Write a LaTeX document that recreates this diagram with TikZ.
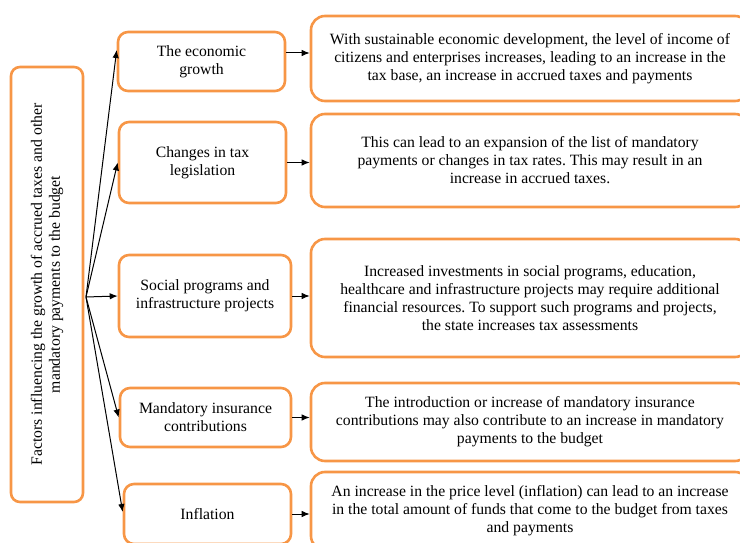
\documentclass[tikz,border=0pt]{standalone}
\usepackage{fontspec}
\setmainfont{Liberation Serif}
\frenchspacing
\usetikzlibrary{arrows.meta,calc}
\definecolor{boxorange}{RGB}{247,150,70}
\tikzset{%
  factor/.style = {shape=rectangle, rounded corners=9pt,%
                   draw=boxorange, line width=2.6pt, align=center,%
                   inner sep=0pt, font=\fontsize{15.7}{18}\selectfont},%
  cause/.style  = {factor, rounded corners=10pt},%
  effect/.style = {factor, rounded corners=14pt,%
                   minimum width=438pt},%
  link/.style   = {-{Latex[length=8pt,width=6.5pt]}, line width=1pt}%
}

\begin{document}
\begin{tikzpicture}[x=1pt, y=-1pt]
                  \useasboundingbox (0,0) rectangle (740,543);
                  \clip (0,0) rectangle (740,543);
                  % the common root, set sideways
                  \node[factor, rotate=90, minimum width=435pt, minimum height=72pt]
                    (root) at (47,284.5)
                    {Factors influencing the growth of accrued taxes and other\\
                     mandatory payments to the budget};
                  \coordinate (hub) at (86,297);
                  % the five factors
                  \node[cause, minimum width=167pt, minimum height=59pt]
                    (growth) at (201.5,61.5) {The economic\\growth};
                  \node[cause, minimum width=167pt, minimum height=81pt]
                    (law) at (202.5,162.5) {Changes in tax\\legislation};
                  \node[cause, minimum width=172pt, minimum height=82pt]
                    (social) at (205,296) {Social programs and\\infrastructure projects};
                  \node[cause, minimum width=171pt, minimum height=59pt]
                    (insur) at (205.5,417.5) {Mandatory insurance\\contributions};
                  \node[cause, minimum width=167pt, minimum height=60pt]
                    (infl) at (207.5,514) {Inflation};
                  % what each factor does
                  \node[effect, minimum height=85pt] (growthE) at (530,58.5)
                    {With sustainable economic development, the level of income of\\
                     citizens and enterprises increases, leading to an increase in the\\
                     tax base, an increase in accrued taxes and payments};
                  \node[effect, minimum height=93pt] (lawE) at (530,160.5)
                    {This can lead to an expansion of the list of mandatory\\
                     payments or changes in tax rates. This may result in an\\
                     increase in accrued taxes.};
                  \node[effect, minimum height=118pt] (socialE) at (530,298)
                    {Increased investments in social programs, education,\\
                     healthcare and infrastructure projects may require additional\\
                     financial resources. To support such programs and projects,\\
                     the state increases tax assessments};
                  \node[effect, minimum height=78pt] (insurE) at (530,422)
                    {The introduction or increase of mandatory insurance\\
                     contributions may also contribute to an increase in mandatory\\
                     payments to the budget};
                  \node[effect, minimum height=78pt] (inflE) at (530,511)
                    {An increase in the price level (inflation) can lead to an increase\\
                     in the total amount of funds that come to the budget from taxes\\
                     and payments};
                  % fan out of the root
                  \draw[link] (hub) -- ([yshift=11.5pt]growth.west);
                  \draw[link] (hub) -- (law.west);
                  \draw[link] (hub) -- (social.west);
                  \draw[link] (hub) -- (insur.west);
                  \draw[link] (hub) -- ([yshift=2pt]infl.west);
                  % factor to its effect
                  \draw[link] ([yshift=8.5pt]growth.east) -- ([yshift=8.5pt]growth.east -| growthE.west);
                  \draw[link] (law.east) -- (law.east -| lawE.west);
                  \draw[link] (social.east) -- (social.east -| socialE.west);
                  \draw[link] (insur.east) -- (insur.east -| insurE.west);
                  \draw[link] (infl.east) -- (infl.east -| inflE.west);
            \end{tikzpicture}
\end{document}
